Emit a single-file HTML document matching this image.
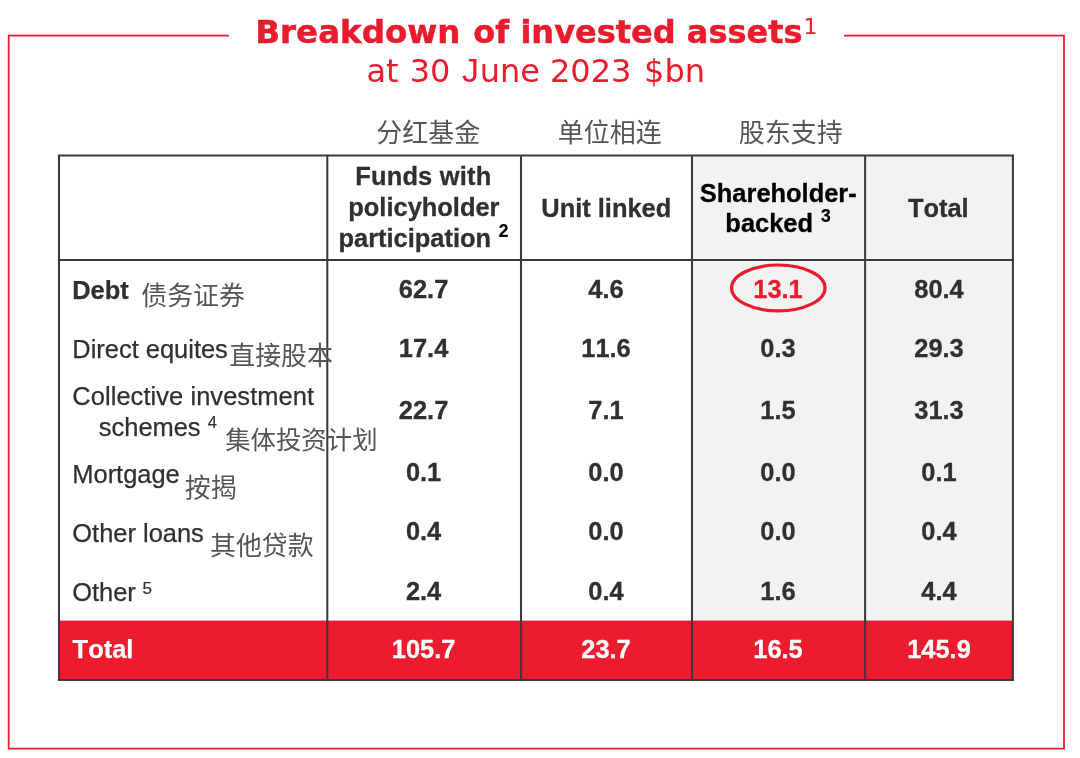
<!DOCTYPE html>
<html lang="en">
<head>
<meta charset="utf-8">
<title>Breakdown of invested assets</title>
<style>
html,body{margin:0;padding:0;background:#fff;}
body{width:1080px;height:758px;overflow:hidden;position:relative;}
svg{position:absolute;left:0;top:0;display:block;}
text{white-space:pre;font-kerning:none;}
.t1{font-family:"DejaVu Sans","Liberation Sans",sans-serif;fill:#ea1b2d;}
.b{font-weight:bold;}
.cj{font-family:"Liberation Sans","Noto Sans CJK SC","WenQuanYi Zen Hei",sans-serif;fill:#555;font-weight:normal;}
.num{font-family:"Liberation Sans",sans-serif;font-weight:bold;font-size:25.45px;fill:#303030;stroke:#303030;stroke-width:.3px;text-anchor:middle;}
.lab{font-family:"Liberation Sans",sans-serif;font-size:25.45px;fill:#303030;stroke:#303030;stroke-width:.25px;}
.hd{font-family:"Liberation Sans",sans-serif;font-weight:bold;font-size:25.45px;fill:#303030;stroke:#303030;stroke-width:.3px;text-anchor:middle;}
.sup{font-family:"Liberation Sans",sans-serif;fill:#303030;stroke:#303030;stroke-width:.2px;}
</style>
</head>
<body>
<svg width="1080" height="758" viewBox="0 0 1080 758">

  <!-- outer red frame -->
  <path d="M229 35.7 H8.7 V748.7 H1064 V35.7 H844" fill="none" stroke="#ea1b2d" stroke-width="1.8"/>

  <!-- grey columns -->
  <rect x="692" y="155.5" width="321" height="466" fill="#f2f2f2"/>
  <!-- total row -->
  <rect x="58.85" y="620.6" width="954" height="59.3" fill="#ec1b2e"/>

  <!-- table grid -->
  <g fill="none" stroke="#3a3a3a" stroke-width="2.05">
    <path d="M57.83 155.5 H1014"/>
    <path d="M57.83 259.95 H1014"/>
    <path d="M57.83 679.9 H1014"/>
    <path d="M59 155.5 V679.9"/>
    <path d="M327.3 155.5 V679.9"/>
    <path d="M521 155.5 V679.9"/>
    <path d="M692 155.5 V679.9"/>
    <path d="M865.1 155.5 V679.9"/>
    <path d="M1012.9 155.5 V679.9"/>
  </g>

  <!-- highlight ellipse -->
  <ellipse cx="778.3" cy="287.95" rx="46.75" ry="22.95" fill="none" stroke="#e81c2e" stroke-width="3.2"/>

  <!-- title -->
  <text class="t1 b" y="42.7" font-size="32" style="stroke:#ea1b2d;stroke-width:.5px"><tspan x="255.3" textLength="205.2" lengthAdjust="spacingAndGlyphs">Breakdown</tspan> <tspan x="473.3">of</tspan> <tspan x="520.4">invested</tspan> <tspan x="686.8">assets</tspan></text>
  <text class="t1" x="803.4" y="33.75" font-size="22">1</text>
  <text class="t1" y="81.7" font-size="32"><tspan x="366.5">at</tspan> <tspan x="409.7">30</tspan> <tspan x="462" font-size="33.9" style="font-family:'Liberation Sans',sans-serif">J</tspan><tspan x="479.7">une</tspan> <tspan x="550">2023</tspan> <tspan x="644.1">$bn</tspan></text>

  <!-- chinese column captions -->
  <text class="cj" x="376.3" y="141.5" font-size="26">分红基金</text>
  <text class="cj" x="557.8" y="141.6" font-size="26">单位相连</text>
  <text class="cj" x="738.8" y="141.6" font-size="26">股东支持</text>

  <!-- header cells -->
  <text class="hd" x="423.3" y="185.4" letter-spacing="0.2">Funds with</text>
  <text class="hd" x="423.9" y="216.2">policyholder</text>
  <text class="hd" x="414.8" y="247">participation</text>
  <text class="sup b" x="498.7" y="236.6" font-size="17.5" style="fill:#000;stroke:#000">2</text>
  <text class="hd" x="606.3" y="216.9">Unit linked</text>
  <text class="hd" x="778.3" y="201.5" style="fill:#000;stroke:#000">Shareholder-</text>
  <text class="hd" x="769.2" y="231.7" style="fill:#000;stroke:#000">backed</text>
  <text class="sup b" x="821" y="221.8" font-size="17.5" style="fill:#000;stroke:#000">3</text>
  <text class="hd" x="938.3" y="216.6">Total</text>

  <!-- row labels -->
  <text class="lab b" x="72.2" y="299.3">Debt</text>
  <text class="cj" x="141.3" y="304.9" font-size="25.9">债务证券</text>
  <text class="lab" x="72.3" y="358.4">Direct equites</text>
  <text class="cj" x="229.3" y="365" font-size="25.9">直接股本</text>
  <text class="lab" x="72.3" y="405.3" letter-spacing="0.07">Collective investment</text>
  <text class="lab" x="98.8" y="436.2">schemes</text>
  <text class="sup" x="207.8" y="428" font-size="16.5">4</text>
  <text class="cj" x="225.2" y="449.3" font-size="25.4">集体投资计划</text>
  <text class="lab" x="72.3" y="482.6">Mortgage</text>
  <text class="cj" x="184.8" y="497.2" font-size="25.9">按揭</text>
  <text class="lab" x="72.3" y="541.7">Other loans</text>
  <text class="cj" x="210" y="555" font-size="25.9">其他贷款</text>
  <text class="lab" x="72.2" y="600.75">Other</text>
  <text class="sup" x="142.6" y="594.4" font-size="17">5</text>
  <text class="lab b" x="72.6" y="658" style="fill:#fff;stroke:#fff">Total</text>

  <!-- numbers -->
  <g class="num">
    <text x="423.6" transform="translate(0 298.2) scale(1 1.035)">62.7</text><text x="606" transform="translate(0 298.2) scale(1 1.035)">4.6</text><text x="778" transform="translate(0 298.2) scale(1 1.035)" style="fill:#e81c2e;stroke:#e81c2e">13.1</text><text x="939" transform="translate(0 298.2) scale(1 1.035)">80.4</text>
    <text x="423.6" transform="translate(0 357.0) scale(1 1.035)">17.4</text><text x="606" transform="translate(0 357.0) scale(1 1.035)">11.6</text><text x="778" transform="translate(0 357.0) scale(1 1.035)">0.3</text><text x="939" transform="translate(0 357.0) scale(1 1.035)">29.3</text>
    <text x="423.6" transform="translate(0 419.2) scale(1 1.035)">22.7</text><text x="606" transform="translate(0 419.2) scale(1 1.035)">7.1</text><text x="778" transform="translate(0 419.2) scale(1 1.035)">1.5</text><text x="939" transform="translate(0 419.2) scale(1 1.035)">31.3</text>
    <text x="423.6" transform="translate(0 481.0) scale(1 1.035)">0.1</text><text x="606" transform="translate(0 481.0) scale(1 1.035)">0.0</text><text x="778" transform="translate(0 481.0) scale(1 1.035)">0.0</text><text x="939" transform="translate(0 481.0) scale(1 1.035)">0.1</text>
    <text x="423.6" transform="translate(0 540.0) scale(1 1.035)">0.4</text><text x="606" transform="translate(0 540.0) scale(1 1.035)">0.0</text><text x="778" transform="translate(0 540.0) scale(1 1.035)">0.0</text><text x="939" transform="translate(0 540.0) scale(1 1.035)">0.4</text>
    <text x="423.6" transform="translate(0 599.8) scale(1 1.035)">2.4</text><text x="606" transform="translate(0 599.8) scale(1 1.035)">0.4</text><text x="778" transform="translate(0 599.8) scale(1 1.035)">1.6</text><text x="939" transform="translate(0 599.8) scale(1 1.035)">4.4</text>
    <text x="423.6" transform="translate(0 658.0) scale(1 1.035)" style="fill:#fff;stroke:#fff">105.7</text><text x="606" transform="translate(0 658.0) scale(1 1.035)" style="fill:#fff;stroke:#fff">23.7</text><text x="778" transform="translate(0 658.0) scale(1 1.035)" style="fill:#fff;stroke:#fff">16.5</text><text x="939" transform="translate(0 658.0) scale(1 1.035)" style="fill:#fff;stroke:#fff">145.9</text>
  </g>
</svg>
</body>
</html>
